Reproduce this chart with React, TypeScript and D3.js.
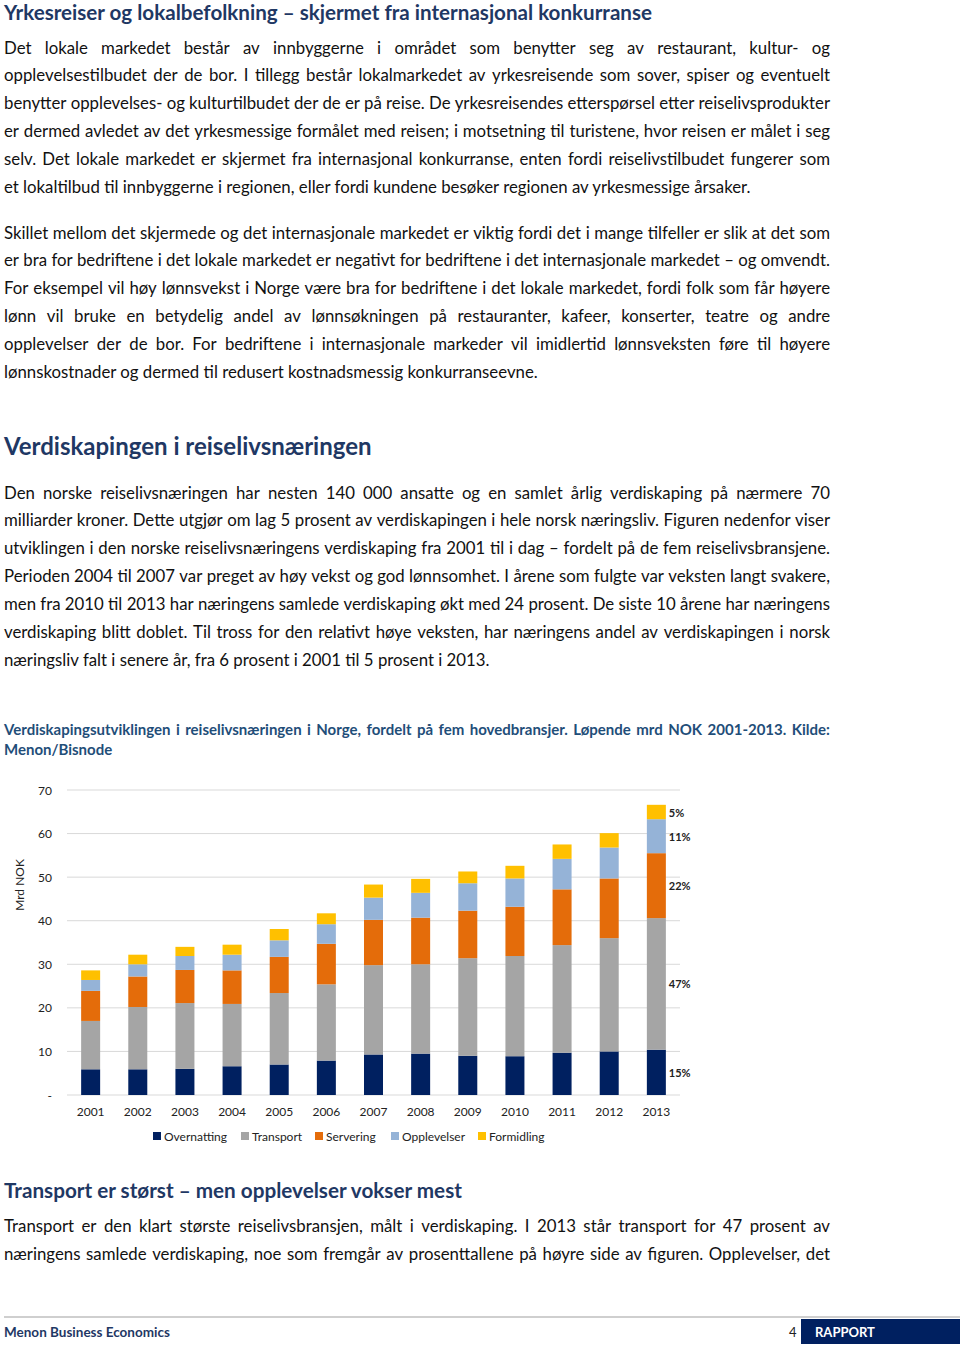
import React from "react";
import * as d3 from "d3";

// ---------- DATA ----------
const years = ["2001","2002","2003","2004","2005","2006","2007","2008","2009","2010","2011","2012","2013"];
const seriesNames = ["Overnatting", "Transport", "Servering", "Opplevelser", "Formidling"];
const overnatting = [5.9, 5.9, 6.0, 6.6, 7.0, 7.9, 9.3, 9.5, 9.0, 8.9, 9.7, 10.0, 10.4];
const transport   = [11.1, 14.3, 15.1, 14.3, 16.4, 17.5, 20.5, 20.5, 22.4, 23.0, 24.7, 26.0, 30.2];
const servering   = [6.9, 7.0, 7.6, 7.7, 8.3, 9.3, 10.4, 10.7, 10.9, 11.3, 12.8, 13.7, 14.9];
const opplevelser = [2.5, 2.8, 3.2, 3.6, 3.8, 4.5, 5.1, 5.7, 6.3, 6.5, 7.0, 7.1, 7.8];
const formidling  = [2.2, 2.2, 2.1, 2.3, 2.6, 2.5, 3.0, 3.2, 2.7, 2.9, 3.3, 3.3, 3.3];
const shareLabels2013 = ["15%", "47%", "22%", "11%", "5%"];
const yTicks = [0, 10, 20, 30, 40, 50, 60, 70];
const yTickLabels = ["-", "10", "20", "30", "40", "50", "60", "70"];
const colors = ["#002060", "#A5A5A5", "#E46C0A", "#95B3D7", "#FFC000"];

const titleText = "Yrkesreiser og lokalbefolkning – skjermet fra internasjonal konkurranse";
const para1 = [
  "Det lokale markedet består av innbyggerne i området som benytter seg av restaurant, kultur- og",
  "opplevelsestilbudet der de bor. I tillegg består lokalmarkedet av yrkesreisende som sover, spiser og eventuelt",
  "benytter opplevelses- og kulturtilbudet der de er på reise. De yrkesreisendes etterspørsel etter reiselivsprodukter",
  "er dermed avledet av det yrkesmessige formålet med reisen; i motsetning til turistene, hvor reisen er målet i seg",
  "selv. Det lokale markedet er skjermet fra internasjonal konkurranse, enten fordi reiselivstilbudet fungerer som",
  "et lokaltilbud til innbyggerne i regionen, eller fordi kundene besøker regionen av yrkesmessige årsaker.",
];
const para2 = [
  "Skillet mellom det skjermede og det internasjonale markedet er viktig fordi det i mange tilfeller er slik at det som",
  "er bra for bedriftene i det lokale markedet er negativt for bedriftene i det internasjonale markedet – og omvendt.",
  "For eksempel vil høy lønnsvekst i Norge være bra for bedriftene i det lokale markedet, fordi folk som får høyere",
  "lønn vil bruke en betydelig andel av lønnsøkningen på restauranter, kafeer, konserter, teatre og andre",
  "opplevelser der de bor. For bedriftene i internasjonale markeder vil imidlertid lønnsveksten føre til høyere",
  "lønnskostnader og dermed til redusert kostnadsmessig konkurranseevne.",
];
const heading2 = "Verdiskapingen i reiselivsnæringen";
const para3 = [
  "Den norske reiselivsnæringen har nesten 140 000 ansatte og en samlet årlig verdiskaping på nærmere 70",
  "milliarder kroner. Dette utgjør om lag 5 prosent av verdiskapingen i hele norsk næringsliv. Figuren nedenfor viser",
  "utviklingen i den norske reiselivsnæringens verdiskaping fra 2001 til i dag – fordelt på de fem reiselivsbransjene.",
  "Perioden 2004 til 2007 var preget av høy vekst og god lønnsomhet. I årene som fulgte var veksten langt svakere,",
  "men fra 2010 til 2013 har næringens samlede verdiskaping økt med 24 prosent. De siste 10 årene har næringens",
  "verdiskaping blitt doblet. Til tross for den relativt høye veksten, har næringens andel av verdiskapingen i norsk",
  "næringsliv falt i senere år, fra 6 prosent i 2001 til 5 prosent i 2013.",
];
const caption = [
  "Verdiskapingsutviklingen i reiselivsnæringen i Norge, fordelt på fem hovedbransjer. Løpende mrd NOK 2001-2013. Kilde:",
  "Menon/Bisnode",
];
const heading3 = "Transport er størst – men opplevelser vokser mest";
const para4 = [
  "Transport er den klart største reiselivsbransjen, målt i verdiskaping. I 2013 står transport for 47 prosent av",
  "næringens samlede verdiskaping, noe som fremgår av prosenttallene på høyre side av figuren. Opplevelser, det",
];
const footerLeft = "Menon Business Economics";
const footerPage = "4";
const footerRight = "RAPPORT";

// ---------- HELPERS ----------
const FONT = "Lato, 'Open Sans', 'Noto Sans', sans-serif";
let measureCtx: CanvasRenderingContext2D | null = null;
function measure(text: string, size: number, weight: string | number = "normal") {
  if (!measureCtx) measureCtx = document.createElement("canvas").getContext("2d");
  measureCtx!.font = `${weight} ${size}px Lato`;
  return measureCtx!.measureText(text).width;
}

function JLine({ text, x, y, width, justify, size, weight = "normal", fill = "#111" }: any) {
  const natural = measure(text, size, weight);
  if (!justify) {
    if (natural > width) {
      return (
        <text x={x} y={y} fontSize={size} fontWeight={weight} fill={fill} fontFamily={FONT}
          dominantBaseline="central" textLength={width} lengthAdjust="spacingAndGlyphs">{text}</text>
      );
    }
    return (
      <text x={x} y={y} fontSize={size} fontWeight={weight} fill={fill} fontFamily={FONT} dominantBaseline="central">{text}</text>
    );
  }
  const words = text.split(" ");
  const widths = words.map((w: string) => measure(w, size, weight));
  const sum = widths.reduce((a: number, b: number) => a + b, 0);
  const gap = (width - sum) / Math.max(1, words.length - 1);
  if (gap < size * 0.18) {
    return (
      <text x={x} y={y} fontSize={size} fontWeight={weight} fill={fill} fontFamily={FONT}
        dominantBaseline="central" textLength={width} lengthAdjust="spacingAndGlyphs">{text}</text>
    );
  }
  let cx = x;
  return (
    <g>
      {words.map((w: string, i: number) => {
        const el = (
          <text key={i} x={cx} y={y} fontSize={size} fontWeight={weight} fill={fill} fontFamily={FONT} dominantBaseline="central">{w}</text>
        );
        cx += widths[i] + gap;
        return el;
      })}
    </g>
  );
}

function Paragraph({ lines, y0, lh, size = 16.8, x = 4, width = 826, lastJustify = false, weight = "normal", fill = "#111" }: any) {
  return (
    <g>
      {lines.map((l: string, i: number) => (
        <JLine key={i} text={l} x={x} y={y0 + i * lh} width={width}
          justify={i < lines.length - 1 || lastJustify} size={size} weight={weight} fill={fill} />
      ))}
    </g>
  );
}

// ---------- CHART ----------
function Chart() {
  const x = d3.scaleBand().domain(years).range([67, 680]).paddingInner(0.597).paddingOuter(0.3);
  const y = d3.scaleLinear().domain([0, 70]).range([1095, 790]);
  const table = years.map((yr, i) => ({
    year: yr,
    Overnatting: overnatting[i],
    Transport: transport[i],
    Servering: servering[i],
    Opplevelser: opplevelser[i],
    Formidling: formidling[i],
  }));
  const stacked = d3.stack<any>().keys(seriesNames)(table);
  const lastYear = years[years.length - 1];
  const lastIdx = years.length - 1;
  const legendX = [153, 241, 315, 391, 478];
  return (
    <g fontFamily={FONT}>
      {yTicks.map((t, i) => (
        <g key={t}>
          <line x1={67} x2={680} y1={y(t)} y2={y(t)} stroke="#D9D9D9" strokeWidth={1} />
          <text x={52} y={y(t)} textAnchor="end" dominantBaseline="central" fontSize={12} fill="#222">{yTickLabels[i]}</text>
        </g>
      ))}
      <text transform={`translate(19,${885}) rotate(-90)`} textAnchor="middle" dominantBaseline="central" fontSize={12} fill="#222">Mrd NOK</text>
      {stacked.map((s, si) => (
        <g key={s.key} fill={colors[si]}>
          {s.map((d: any, i: number) => (
            <rect key={i} x={x(years[i])} width={x.bandwidth()} y={y(d[1])} height={y(d[0]) - y(d[1])} />
          ))}
        </g>
      ))}
      {stacked.map((s, si) => {
        const d = s[lastIdx];
        return (
          <text key={s.key} x={(x(lastYear) as number) + x.bandwidth() + 3} y={y((d[0] + d[1]) / 2)}
            dominantBaseline="central" fontSize={11} fontWeight="bold" fill="#222">{shareLabels2013[si]}</text>
        );
      })}
      {years.map((yr) => (
        <text key={yr} x={(x(yr) as number) + x.bandwidth() / 2} y={1111} textAnchor="middle" dominantBaseline="central" fontSize={12} fill="#222">{yr}</text>
      ))}
      {seriesNames.map((n, i) => (
        <g key={n}>
          <rect x={legendX[i]} y={1132} width={8} height={8} fill={colors[i]} />
          <text x={legendX[i] + 11} y={1136.5} dominantBaseline="central" fontSize={12} fill="#222">{n}</text>
        </g>
      ))}
    </g>
  );
}

export default function App() {
  const navy = "#1F3864";
  return (
    <div>
      <style>{`body{margin:0}`}</style>
      <svg width={960} height={1348} style={{ display: "block", background: "#fff" }}>
        <rect width={960} height={1348} fill="#fff" />
        <text x={4} y={12} fontSize={20.6} fontWeight="bold" fill={navy} fontFamily={FONT} dominantBaseline="central">{titleText}</text>
        <Paragraph lines={para1} y0={47} lh={27.8} />
        <Paragraph lines={para2} y0={232} lh={27.8} />
        <text x={4} y={445} fontSize={24} fontWeight="bold" fill={navy} fontFamily={FONT} dominantBaseline="central">{heading2}</text>
        <Paragraph lines={para3} y0={492} lh={27.9} />
        <Paragraph lines={caption} y0={729} lh={20} size={15} weight="bold" fill="#1F4E79" />
        <Chart />
        <text x={4} y={1190} fontSize={20.7} fontWeight="bold" fill={navy} fontFamily={FONT} dominantBaseline="central">{heading3}</text>
        <Paragraph lines={para4} y0={1225} lh={28} lastJustify={true} />
        <line x1={4} x2={960} y1={1317} y2={1317} stroke="#BFBFBF" strokeWidth={1.5} />
        <text x={4} y={1332} fontSize={13.5} fontWeight="bold" fill={navy} fontFamily={FONT} dominantBaseline="central">{footerLeft}</text>
        <text x={789} y={1332} fontSize={13} fill="#222" fontFamily={FONT} dominantBaseline="central">{footerPage}</text>
        <rect x={801} y={1319} width={159} height={25} fill="#002060" />
        <text x={815} y={1332} fontSize={13} fontWeight="bold" fill="#fff" fontFamily={FONT} dominantBaseline="central">{footerRight}</text>
      </svg>
    </div>
  );
}
